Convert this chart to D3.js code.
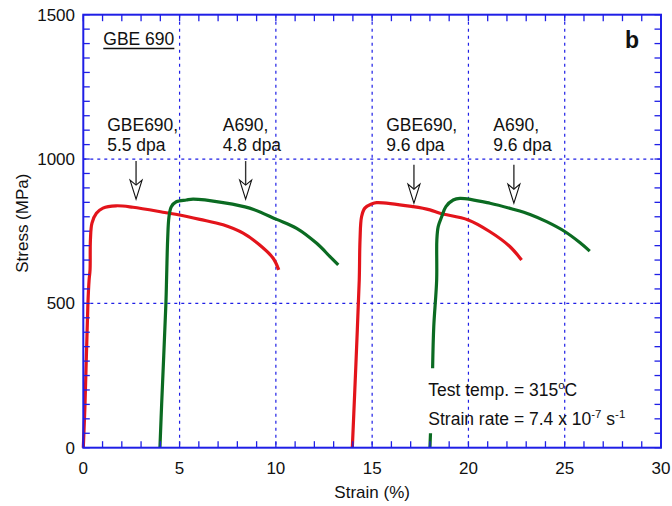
<!DOCTYPE html>
<html>
<head>
<meta charset="utf-8">
<script src="https://cdn.jsdelivr.net/npm/d3@7/dist/d3.min.js"></script>
<style>
  html, body { margin: 0; padding: 0; background: #fff; }
  svg { display: block; font-family: "Liberation Sans", Arial, sans-serif; }
</style>
</head>
<body>
<svg id="chart" width="672" height="506"></svg>
<script>
// Tensile curves: strain (%) vs engineering stress (MPa)
const gbe55Strain = [0, 0.09, 0.24, 0.30, 0.35, 0.37, 0.45, 0.68, 1.02, 1.7, 2.58, 4.3, 5.0, 6.05, 7.26, 8.3, 9.16, 9.85, 10.15];
const gbe55Stress = [0, 153, 500, 580, 616, 720, 778, 812, 830, 838, 833, 814, 806, 791, 772, 743, 702, 657, 616];

const a48Strain = [3.98, 4.07, 4.29, 4.33, 4.38, 4.45, 4.57, 4.83, 5.35, 5.7, 7.26, 8.64, 10.04, 11.08, 12.12, 12.81, 13.24];
const a48Stress = [0, 153, 500, 600, 720, 800, 835, 852, 858, 861, 849, 830, 791, 760, 708, 662, 633];

const gbe96Strain = [13.97, 14.1, 14.23, 14.33, 14.37, 14.45, 14.62, 14.97, 15.23, 17.13, 18.0, 18.52, 19.99, 21.1, 22.15, 22.76];
const gbe96Stress = [0, 200, 408, 581, 720, 800, 830, 844, 849, 835, 824, 812, 789, 749, 697, 650];

// null marks the break in the recorded data
const a96Strain = [18.0, 18.03, 18.1, 18.14, 18.2, 18.35, 18.36, 18.43, 18.61, 18.83, 19.21, 19.56, 21.12, 22.33, 23.2, 24.06, 25.0, 25.8, 26.3];
const a96Stress = [0, 50, null, 275, 420, 581, 720, 766, 800, 835, 858, 864, 847, 826, 808, 783, 749, 710, 681];

const xTicks = [0, 5, 10, 15, 20, 25, 30];
const yTicks = [0, 500, 1000, 1500];

// Arrow annotations: label lines, text anchor (strain), arrow x, arrow top/tip stress
const noteLines = [["GBE690,", "5.5 dpa"], ["A690,", "4.8 dpa"], ["GBE690,", "9.6 dpa"], ["A690,", "9.6 dpa"]];
const noteTextX = [1.24, 7.24, 15.73, 21.29];
const noteArrowX = [2.74, 8.43, 17.17, 22.36];
const noteArrowTop = [993, 993, 980, 980];
const noteArrowTip = [861, 861, 847, 847];

const svg = d3.select("#chart");
const x = d3.scaleLinear().domain([0, 30]).range([83.3, 661]);
const y = d3.scaleLinear().domain([0, 1500]).range([447.7, 14.7]);

const blue = "#1f1fe6";
const red = "#e3141b";
const green = "#0b6b22";

// dotted grid
const grid = svg.append("g");
grid.selectAll("line.vx").data(xTicks.slice(1, -1)).join("line")
  .attr("x1", d => x(d)).attr("x2", d => x(d))
  .attr("y1", y(1500)).attr("y2", y(0))
  .attr("stroke", blue).attr("stroke-width", 1.2).attr("stroke-dasharray", "3,4");
grid.selectAll("line.hy").data(yTicks.slice(1, -1)).join("line")
  .attr("x1", x(0)).attr("x2", x(30))
  .attr("y1", d => y(d)).attr("y2", d => y(d))
  .attr("stroke", blue).attr("stroke-width", 1.2).attr("stroke-dasharray", "3,4");

// curves
const curves = [
  [gbe55Strain, gbe55Stress, red],
  [a48Strain, a48Stress, green],
  [gbe96Strain, gbe96Stress, red],
  [a96Strain, a96Stress, green]
];
const line = d3.line()
  .defined(d => d[1] !== null)
  .x(d => x(d[0])).y(d => y(d[1]))
  .curve(d3.curveCatmullRom.alpha(0.5));
curves.forEach(([sx, sy, col]) => {
  svg.append("path")
    .datum(sx.map((v, i) => [v, sy[i]]))
    .attr("d", line)
    .attr("fill", "none")
    .attr("stroke", col)
    .attr("stroke-width", 3.2)
    .attr("stroke-linejoin", "round");
});

// frame with inward ticks on all four sides
const tickLen = 6.5;
const ax = svg.append("g").attr("stroke", blue);
ax.append("rect")
  .attr("x", x(0)).attr("y", y(1500))
  .attr("width", x(30) - x(0)).attr("height", y(0) - y(1500))
  .attr("fill", "none").attr("stroke-width", 2);
const xMinor = d3.range(0, 31, 1);
const yMinor = d3.range(0, 1501, 50);
ax.selectAll("line.xb").data(xMinor).join("line")
  .attr("x1", d => x(d)).attr("x2", d => x(d))
  .attr("y1", y(0)).attr("y2", y(0) - tickLen).attr("stroke-width", 1.3);
ax.selectAll("line.xt").data(xMinor).join("line")
  .attr("x1", d => x(d)).attr("x2", d => x(d))
  .attr("y1", y(1500)).attr("y2", y(1500) + tickLen).attr("stroke-width", 1.3);
ax.selectAll("line.yl").data(yMinor).join("line")
  .attr("x1", x(0)).attr("x2", x(0) + tickLen)
  .attr("y1", d => y(d)).attr("y2", d => y(d)).attr("stroke-width", 1.3);
ax.selectAll("line.yr").data(yMinor).join("line")
  .attr("x1", x(30)).attr("x2", x(30) - tickLen)
  .attr("y1", d => y(d)).attr("y2", d => y(d)).attr("stroke-width", 1.3);

// tick labels
svg.append("g").selectAll("text").data(xTicks).join("text")
  .attr("x", d => x(d)).attr("y", 474)
  .attr("text-anchor", "middle").attr("font-size", 17).attr("fill", "#111")
  .text(d => d);
svg.append("g").selectAll("text").data(yTicks).join("text")
  .attr("x", 75).attr("y", d => y(d) + 6)
  .attr("text-anchor", "end").attr("font-size", 17).attr("fill", "#111")
  .text(d => d);

// axis titles
svg.append("text").attr("x", (x(0) + x(30)) / 2).attr("y", 498)
  .attr("text-anchor", "middle").attr("font-size", 17).attr("fill", "#111")
  .text("Strain (%)");
svg.append("text")
  .attr("transform", `translate(28,${(y(0) + y(1500)) / 2 - 8}) rotate(-90)`)
  .attr("text-anchor", "middle").attr("font-size", 17).attr("fill", "#111")
  .text("Stress (MPa)");

// panel title and letter
const title = svg.append("text").attr("x", 103.3).attr("y", 45)
  .attr("font-size", 17.5).attr("fill", "#111").text("GBE 690");
const tw = title.node().getComputedTextLength();
svg.append("line").attr("x1", 103.3).attr("x2", 103.3 + tw)
  .attr("y1", 48.5).attr("y2", 48.5).attr("stroke", "#111").attr("stroke-width", 1.6);
svg.append("text").attr("x", 625).attr("y", 47.5)
  .attr("font-size", 23).attr("font-weight", "bold").attr("fill", "#111").text("b");

// annotations with open arrowheads
noteLines.forEach((lines, i) => {
  const t = svg.append("text").attr("font-size", 17.5).attr("fill", "#111");
  lines.forEach((s, j) => {
    t.append("tspan").attr("x", x(noteTextX[i])).attr("y", 131 + j * 20).text(s);
  });
  const ax0 = x(noteArrowX[i]);
  const top = y(noteArrowTop[i]);
  const tip = y(noteArrowTip[i]);
  svg.append("line").attr("x1", ax0).attr("x2", ax0)
    .attr("y1", top).attr("y2", tip - 14)
    .attr("stroke", "#333").attr("stroke-width", 1.4);
  svg.append("path")
    .attr("d", `M${ax0 - 6},${tip - 19} L${ax0},${tip} L${ax0 + 6},${tip - 19} L${ax0},${tip - 14} Z`)
    .attr("fill", "#fff").attr("stroke", "#111").attr("stroke-width", 1.1)
    .attr("stroke-linejoin", "miter");
});

// test conditions
const cond1 = svg.append("text").attr("x", 428.3).attr("y", 395.7)
  .attr("font-size", 17.5).attr("fill", "#111");
cond1.append("tspan").text("Test temp. = 315");
cond1.append("tspan").attr("font-size", 11.5).attr("dy", -7).text("o");
cond1.append("tspan").attr("dy", 7).text("C");

const cond2 = svg.append("text").attr("x", 428.3).attr("y", 425)
  .attr("font-size", 17.5).attr("fill", "#111");
cond2.append("tspan").text("Strain rate = 7.4 x 10");
cond2.append("tspan").attr("font-size", 11.5).attr("dy", -7).text("-7");
cond2.append("tspan").attr("dy", 7).text(" s");
cond2.append("tspan").attr("font-size", 11.5).attr("dy", -7).text("-1");
</script>
</body>
</html>
